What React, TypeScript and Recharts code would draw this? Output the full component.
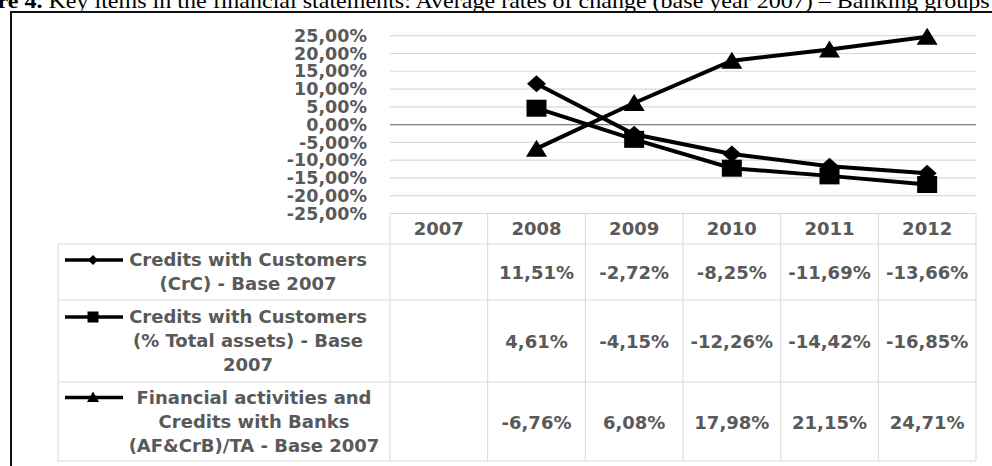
import React from 'react';
import { LineChart, Line, XAxis, YAxis, CartesianGrid, ReferenceLine } from 'recharts';

const years = ['2007', '2008', '2009', '2010', '2011', '2012'];
const crcBase2007 = [null, 11.51, -2.72, -8.25, -11.69, -13.66];
const crcTotalAssets = [null, 4.61, -4.15, -12.26, -14.42, -16.85];
const afCrbTotalAssets = [null, -6.76, 6.08, 17.98, 21.15, 24.71];
const yTicks = [-25, -20, -15, -10, -5, 0, 5, 10, 15, 20, 25];
const seriesLabels = [
  ['Credits with Customers', '(CrC) - Base 2007'],
  ['Credits with Customers', '(% Total assets) - Base', '2007'],
  ['Financial activities and', 'Credits with Banks', '(AF&CrB)/TA - Base 2007'],
];
const titleLead = 'Figure 4.';
const titleRest = ' Key items in the financial statements: Average rates of change (base year 2007) \u2013 Banking groups';

const data = years.map((year, i) => ({
  year,
  crc: crcBase2007[i],
  crcTa: crcTotalAssets[i],
  afCrb: afCrbTotalAssets[i],
}));
const tableRows = [crcBase2007, crcTotalAssets, afCrbTotalAssets];

// layout
const W = 992;
const H = 466;
const PLOT_LEFT = 390;
const PLOT_RIGHT = 976;
const PLOT_TOP = 35.7;
const PLOT_BOTTOM = 213.5;
const COL_W = (PLOT_RIGHT - PLOT_LEFT) / years.length;
const TABLE_LEFT = 58;
const HEADER_BOTTOM = 244;
const LINE_H = 24;
const ROW_HEIGHTS = [56, 82, 79];
const FONT = "'DejaVu Sans', Verdana, sans-serif";
const GREY_TEXT = '#595959';
const GRID = '#d9d9d9';

const fmt = (v: number) => v.toFixed(2).replace('.', ',') + '%';

const missing = (p: any) => p.cx == null || p.cy == null || p.value == null;

const DiamondDot = (p: any) =>
  missing(p) ? <g key={`d${p.index}`} /> : (
    <polygon
      key={`d${p.index}`}
      points={`${p.cx},${p.cy - 8.5} ${p.cx + 9.5},${p.cy} ${p.cx},${p.cy + 8.5} ${p.cx - 9.5},${p.cy}`}
      fill="#000"
    />
  );

const SquareDot = (p: any) =>
  missing(p) ? <g key={`s${p.index}`} /> : (
    <rect key={`s${p.index}`} x={p.cx - 10} y={p.cy - 8.5} width={20} height={17} fill="#000" />
  );

const TriangleDot = (p: any) =>
  missing(p) ? <g key={`t${p.index}`} /> : (
    <polygon
      key={`t${p.index}`}
      points={`${p.cx},${p.cy - 9} ${p.cx + 10.5},${p.cy + 8} ${p.cx - 10.5},${p.cy + 8}`}
      fill="#000"
    />
  );

const LegendKey = ({ kind, y }: { kind: number; y: number }) => {
  const cx = 93;
  return (
    <g>
      <line x1={65} x2={123} y1={y} y2={y} stroke="#000" strokeWidth={3.5} />
      {kind === 0 && <polygon points={`${cx},${y - 5} ${cx + 5},${y} ${cx},${y + 5} ${cx - 5},${y}`} fill="#000" />}
      {kind === 1 && <rect x={cx - 5.5} y={y - 5.5} width={11} height={11} fill="#000" />}
      {kind === 2 && <polygon points={`${cx},${y - 6} ${cx + 6},${y + 4.5} ${cx - 6},${y + 4.5}`} fill="#000" />}
    </g>
  );
};

const DataTable = () => {
  const rowTops: number[] = [];
  let acc = HEADER_BOTTOM;
  ROW_HEIGHTS.forEach((h) => {
    rowTops.push(acc);
    acc += h;
  });
  const tableBottom = acc;
  const textProps = { fontFamily: FONT, fontWeight: 'bold' as const, fontSize: 18, fill: GREY_TEXT };

  return (
    <svg width={W} height={H} style={{ position: 'absolute', left: 0, top: 0 }}>
      {/* grid of the table */}
      <line x1={PLOT_LEFT} x2={PLOT_RIGHT} y1={PLOT_BOTTOM} y2={PLOT_BOTTOM} stroke={GRID} />
      <line x1={TABLE_LEFT} x2={PLOT_RIGHT} y1={HEADER_BOTTOM} y2={HEADER_BOTTOM} stroke={GRID} />
      {rowTops.map((t, i) => (
        <line key={`rb${i}`} x1={TABLE_LEFT} x2={PLOT_RIGHT} y1={t + ROW_HEIGHTS[i]} y2={t + ROW_HEIGHTS[i]} stroke={GRID} />
      ))}
      <line x1={TABLE_LEFT} x2={TABLE_LEFT} y1={HEADER_BOTTOM} y2={tableBottom} stroke={GRID} />
      {years.map((_, i) => (
        <line key={`cl${i}`} x1={PLOT_LEFT + i * COL_W} x2={PLOT_LEFT + i * COL_W} y1={PLOT_BOTTOM} y2={tableBottom} stroke={GRID} />
      ))}
      <line x1={PLOT_RIGHT} x2={PLOT_RIGHT} y1={PLOT_BOTTOM} y2={tableBottom} stroke={GRID} />

      {/* header */}
      {years.map((y, i) => (
        <text key={`h${y}`} x={PLOT_LEFT + (i + 0.5) * COL_W} y={(PLOT_BOTTOM + HEADER_BOTTOM) / 2} dy="0.36em" textAnchor="middle" {...textProps}>
          {y}
        </text>
      ))}

      {/* rows */}
      {tableRows.map((row, r) => {
        const top = rowTops[r];
        const mid = top + ROW_HEIGHTS[r] / 2;
        const lines = seriesLabels[r];
        const firstY = mid - ((lines.length - 1) * LINE_H) / 2;
        const labelX = r === 2 ? 254 : 248;
        return (
          <g key={`row${r}`}>
            <LegendKey kind={r} y={firstY} />
            {lines.map((ln, j) => (
              <text key={`l${j}`} x={labelX} y={firstY + j * LINE_H} dy="0.36em" textAnchor="middle" {...textProps}>
                {ln}
              </text>
            ))}
            {row.map((v, i) =>
              v == null ? null : (
                <text key={`v${i}`} x={PLOT_LEFT + (i + 0.5) * COL_W} y={mid + 1} dy="0.36em" textAnchor="middle" {...textProps}>
                  {fmt(v)}
                </text>
              )
            )}
          </g>
        );
      })}
    </svg>
  );
};

export default function App() {
  return (
    <div style={{ position: 'fixed', left: 0, top: 0, width: W, height: H, overflow: 'hidden', background: '#fff' }}>
      <svg width={W} height={20} style={{ position: 'absolute', left: 0, top: 0 }}>
        <text
          x={-43}
          y={7.5}
          transform="scale(1.145,1)"
          fontFamily="'Liberation Serif', 'Times New Roman', serif"
          fontSize={21}
          fill="#000"
        >
          <tspan fontWeight="bold">{titleLead}</tspan>
          <tspan>{titleRest}</tspan>
        </text>
      </svg>
      <div
        style={{
          position: 'absolute',
          left: 10,
          top: 11,
          width: 1000,
          height: 480,
          border: '2.5px solid #111',
          boxSizing: 'border-box',
        }}
      />
      <LineChart
        width={W}
        height={H}
        data={data}
        margin={{ top: PLOT_TOP, right: W - PLOT_RIGHT, bottom: H - PLOT_BOTTOM, left: PLOT_LEFT - 100 }}
        style={{ position: 'absolute', left: 0, top: 0 }}
      >
        <CartesianGrid vertical={false} stroke={GRID} strokeWidth={1.2} />
        <XAxis dataKey="year" hide padding={{ left: COL_W / 2, right: COL_W / 2 }} />
        <YAxis
          width={100}
          domain={[-25, 25]}
          ticks={yTicks}
          interval={0}
          axisLine={false}
          tickLine={false}
          tickSize={0}
          tickMargin={23}
          tickFormatter={fmt}
          tick={{ fill: GREY_TEXT, fontFamily: FONT, fontWeight: 'bold', fontSize: 17.5 }}
        />
        <ReferenceLine y={0} stroke="#808080" strokeWidth={1.2} />
        <Line type="linear" dataKey="crc" stroke="#000" strokeWidth={4} dot={DiamondDot} isAnimationActive={false} />
        <Line type="linear" dataKey="crcTa" stroke="#000" strokeWidth={4} dot={SquareDot} isAnimationActive={false} />
        <Line type="linear" dataKey="afCrb" stroke="#000" strokeWidth={4} dot={TriangleDot} isAnimationActive={false} />
      </LineChart>
      <DataTable />
    </div>
  );
}
